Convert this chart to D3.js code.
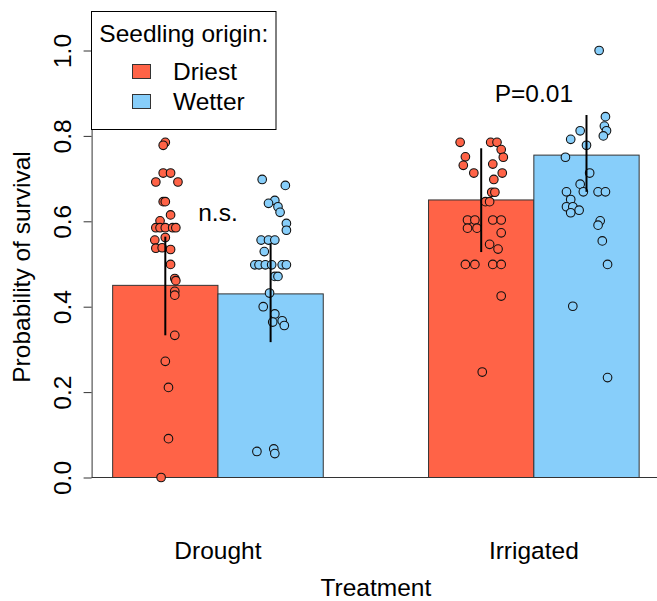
<!DOCTYPE html>
<html>
<head>
<meta charset="utf-8">
<script src="https://cdn.jsdelivr.net/npm/d3@7"></script>
<style>
  body { margin: 0; background: #fff; }
  text { font-family: "Liberation Sans", Arial, sans-serif; fill: #000; font-size: 24.5px; }
</style>
</head>
<body>
<svg id="chart"></svg>
<script>
// treatments and seedling origins
var treatments = ["Drought", "Irrigated"]
var origins = ["Driest", "Wetter"]
var originColors = ["tomato", "lightskyblue"]

// estimated survival per bar, [Driest, Wetter] inside each treatment
var meanSurvival = [[0.45, 0.43], [0.65, 0.755]]
var ciLow = [[0.333, 0.317], [0.528, 0.669]]
var ciHigh = [[0.564, 0.548], [0.771, 0.849]]

// per-population survival, [value, horizontal jitter in bar widths]
var droughtDriest = [
    [0.785, 0.00], [0.778, -0.02], [0.713, -0.02], [0.713, 0.05], [0.692, -0.09], [0.692, 0.12],
    [0.646, -0.02], [0.646, 0.00], [0.615, 0.05], [0.601, -0.05], [0.585, -0.09], [0.585, -0.05],
    [0.585, 0.00], [0.585, 0.07], [0.585, 0.10], [0.562, 0.00], [0.556, -0.10], [0.537, -0.09],
    [0.538, -0.03], [0.534, 0.05], [0.499, 0.05], [0.466, 0.09], [0.461, 0.10], [0.436, 0.09],
    [0.427, 0.09], [0.333, 0.09], [0.272, 0.00], [0.211, 0.03], [0.091, 0.03], [0.0, -0.04]
]
var droughtWetter = [
    [0.698, -0.08], [0.684, 0.14], [0.649, 0.04], [0.642, -0.02], [0.634, 0.07], [0.621, 0.09],
    [0.595, 0.15], [0.579, 0.15], [0.556, -0.09], [0.556, -0.02], [0.556, 0.04], [0.529, -0.06],
    [0.498, -0.15], [0.498, -0.11], [0.498, -0.05], [0.498, 0.01], [0.498, 0.11], [0.498, 0.15],
    [0.471, 0.04], [0.471, 0.07], [0.432, -0.01], [0.400, -0.07], [0.383, 0.04], [0.364, 0.02],
    [0.367, 0.11], [0.356, 0.13], [0.061, -0.13], [0.067, 0.03], [0.056, 0.04]
]
var irrigatedDriest = [
    [0.785, -0.20], [0.785, 0.09], [0.785, 0.15], [0.768, 0.19], [0.751, -0.15], [0.750, 0.21],
    [0.731, -0.17], [0.734, 0.11], [0.713, -0.07], [0.713, 0.20], [0.698, 0.12], [0.668, 0.10],
    [0.668, 0.13], [0.646, 0.04], [0.646, 0.08], [0.603, -0.13], [0.603, -0.06], [0.603, 0.11],
    [0.603, 0.19], [0.584, -0.13], [0.584, -0.04], [0.573, 0.19], [0.546, 0.08], [0.535, 0.16],
    [0.499, -0.15], [0.499, -0.06], [0.499, 0.11], [0.499, 0.19], [0.425, 0.19], [0.247, 0.01]
]
var irrigatedWetter = [
    [1.0, 0.12], [0.845, 0.18], [0.823, 0.17], [0.812, 0.19], [0.800, 0.16], [0.812, -0.06],
    [0.792, -0.15], [0.778, 0.00], [0.750, -0.20], [0.713, 0.03], [0.687, -0.06], [0.669, -0.03],
    [0.669, -0.19], [0.669, 0.11], [0.669, 0.18], [0.651, -0.15], [0.634, -0.19], [0.634, -0.13],
    [0.626, -0.07], [0.620, -0.15], [0.601, 0.13], [0.591, 0.11], [0.554, 0.15], [0.499, 0.20],
    [0.401, -0.13], [0.234, 0.20]
]
var populations = [[droughtDriest, droughtWetter], [irrigatedDriest, irrigatedWetter]]

var yTicks = [0, 0.2, 0.4, 0.6, 0.8, 1.0]
var annotations = ["n.s.", "P=0.01"]

var dimensions = {
    width: 657,
    height: 601,
    plot: { left: 91.6, right: 660.2, top: 50.5, bottom: 477.5 }
}

var svg = d3.select("#chart")
    .attr("width", dimensions.width)
    .attr("height", dimensions.height)

// barplot units: bars are 1 wide, one empty unit between treatments
var xScale = d3.scaleLinear()
    .domain([0.8, 6.2])
    .range([dimensions.plot.left, dimensions.plot.right])

var yScale = d3.scaleLinear()
    .domain([0, 1])
    .range([dimensions.plot.bottom, dimensions.plot.top])

var bars = []
treatments.forEach(function (t, gi) {
    origins.forEach(function (o, oi) {
        bars.push({
            gi: gi, oi: oi,
            start: 1 + gi * 3 + oi,
            mean: meanSurvival[gi][oi],
            low: ciLow[gi][oi],
            high: ciHigh[gi][oi],
            points: populations[gi][oi]
        })
    })
})

svg.append("g")
    .selectAll("rect")
    .data(bars)
    .enter()
    .append("rect")
    .attr("x", d => xScale(d.start))
    .attr("y", d => yScale(d.mean))
    .attr("width", d => xScale(d.start + 1) - xScale(d.start))
    .attr("height", d => yScale(0) - yScale(d.mean))
    .attr("fill", d => originColors[d.oi])
    .attr("stroke", "#333")
    .attr("stroke-width", 1)

// bottom line at zero
svg.append("line")
    .attr("x1", xScale(0.8))
    .attr("x2", xScale(6.2))
    .attr("y1", yScale(0))
    .attr("y2", yScale(0))
    .attr("stroke", "#333")
    .attr("stroke-width", 1)

bars.forEach(function (b) {
    svg.append("g")
        .selectAll("circle")
        .data(b.points)
        .enter()
        .append("circle")
        .attr("cx", d => xScale(b.start + 0.5 + d[1]))
        .attr("cy", d => yScale(d[0]))
        .attr("r", 4.3)
        .attr("fill", originColors[b.oi])
        .attr("stroke", "#111")
        .attr("stroke-width", 1.1)
})

svg.append("g")
    .selectAll("line")
    .data(bars)
    .enter()
    .append("line")
    .attr("x1", d => xScale(d.start + 0.5))
    .attr("x2", d => xScale(d.start + 0.5))
    .attr("y1", d => yScale(d.low))
    .attr("y2", d => yScale(d.high))
    .attr("stroke", "#000")
    .attr("stroke-width", 2)

var yAxis = d3.axisLeft(yScale)
    .tickValues(yTicks)
    .tickFormat(d3.format(".1f"))
    .tickSize(8)
    .tickSizeOuter(0)

var yAxisG = svg.append("g")
    .attr("class", "y-axis")
    .attr("transform", "translate(" + dimensions.plot.left + ",0)")
    .call(yAxis)
yAxisG.select(".domain").attr("stroke", "#333")
yAxisG.selectAll(".tick line").attr("stroke", "#333")
yAxisG.selectAll("text")
    .attr("x", 0)
    .attr("y", -21)
    .attr("dy", 0)
    .attr("transform", "rotate(-90)")
    .style("text-anchor", "middle")
    .style("font-size", "24.5px")
    .attr("fill", "#000")

svg.append("text")
    .attr("transform", "translate(30," + 267 + ") rotate(-90)")
    .attr("text-anchor", "middle")
    .text("Probability of survival")

svg.append("g")
    .selectAll("text")
    .data(treatments)
    .enter()
    .append("text")
    .attr("x", (d, i) => xScale(2 + i * 3))
    .attr("y", 559)
    .attr("text-anchor", "middle")
    .text(d => d)

svg.append("text")
    .attr("x", (xScale(0.8) + xScale(6.2)) / 2)
    .attr("y", 596)
    .attr("text-anchor", "middle")
    .text("Treatment")

// significance labels
svg.append("text")
    .attr("x", xScale(2))
    .attr("y", 220.5)
    .attr("text-anchor", "middle")
    .text(annotations[0])
svg.append("text")
    .attr("x", xScale(5))
    .attr("y", 101.5)
    .attr("text-anchor", "middle")
    .text(annotations[1])

// legend
var legend = svg.append("g")
legend.append("rect")
    .attr("x", 91.5)
    .attr("y", 11.5)
    .attr("width", 184.5)
    .attr("height", 118)
    .attr("fill", "#fff")
    .attr("stroke", "#000")
legend.append("text")
    .attr("x", 183.75)
    .attr("y", 41.5)
    .attr("text-anchor", "middle")
    .text("Seedling origin:")
origins.forEach(function (o, i) {
    legend.append("rect")
        .attr("x", 132.5)
        .attr("y", 64.5 + i * 30)
        .attr("width", 18)
        .attr("height", 14)
        .attr("fill", originColors[i])
        .attr("stroke", "#333")
    legend.append("text")
        .attr("x", 173)
        .attr("y", 79.5 + i * 30)
        .text(o)
})
</script>
</body>
</html>
